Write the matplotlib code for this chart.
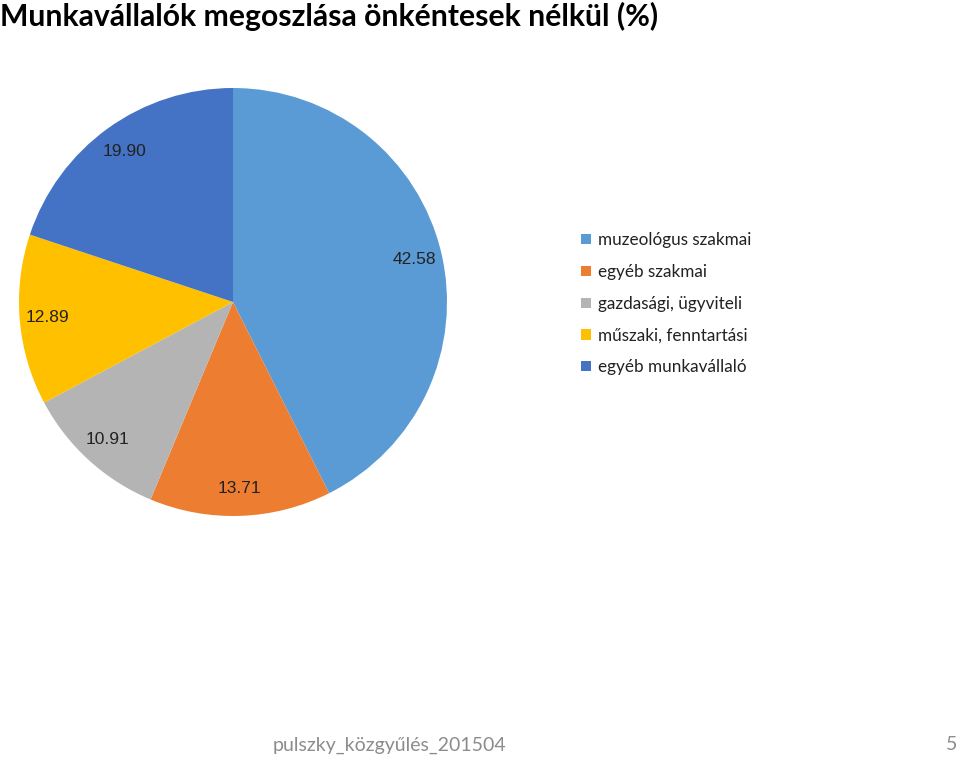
import matplotlib
matplotlib.use("Agg")
import matplotlib.pyplot as plt
from matplotlib.patches import Patch

# Chart data
categories = ["muzeológus szakmai", "egyéb szakmai", "gazdasági, ügyviteli",
              "műszaki, fenntartási", "egyéb munkavállaló"]
values = [42.58, 13.71, 10.91, 12.89, 19.90]
colors = ["#5B9BD5", "#ED7D31", "#B4B4B4", "#FFC000", "#4472C4"]

title = "Munkavállalók megoszlása önkéntesek nélkül (%)"
footer = "pulszky_közgyűlés_201504"
page = "5"

W, H = 960, 757
fig = plt.figure(figsize=(W / 100, H / 100), dpi=100)
fig.patch.set_facecolor("white")

# pie placed in pixel coordinates (centre 233,302 ; radius 214)
cx, cy, r = 233, 302, 214
ax = fig.add_axes([(cx - r) / W, (H - cy - r) / H, 2 * r / W, 2 * r / H])
wedges, texts = ax.pie(values, colors=colors, startangle=90, counterclock=False,
                       labels=[f"{v:.2f}" for v in values], labeldistance=0.87,
                       wedgeprops=dict(linewidth=0),
                       textprops=dict(fontsize=12.5, family="Liberation Sans", color="#222222"))
for t in texts:
    t.set_ha("center")
    t.set_va("center")
ax.set_xlim(-1, 1)
ax.set_ylim(-1, 1)
ax.axis("off")

handles = [Patch(facecolor=c, edgecolor="none") for c in colors]
fig.legend(handles, categories, loc="upper left", bbox_to_anchor=(566 / W, 1 - 217 / H),
           frameon=False, handlelength=0.55, handleheight=0.55, handletextpad=0.45,
           labelspacing=0.92, prop=dict(family="Lato", size=12.3), labelcolor="#222222")

fig.text(0.0 / W, 1 - 16 / H, title, fontsize=21.7, fontweight="bold", family="Lato",
         ha="left", va="center", color="black")
fig.text(389 / W, 1 - 745 / H, footer, fontsize=14, family="Lato", ha="center",
         va="center", color="#8C8C8C")
fig.text(952 / W, 1 - 745 / H, page, fontsize=14, family="Lato", ha="center",
         va="center", color="#8C8C8C")

fig.savefig("out.png", dpi=100)
